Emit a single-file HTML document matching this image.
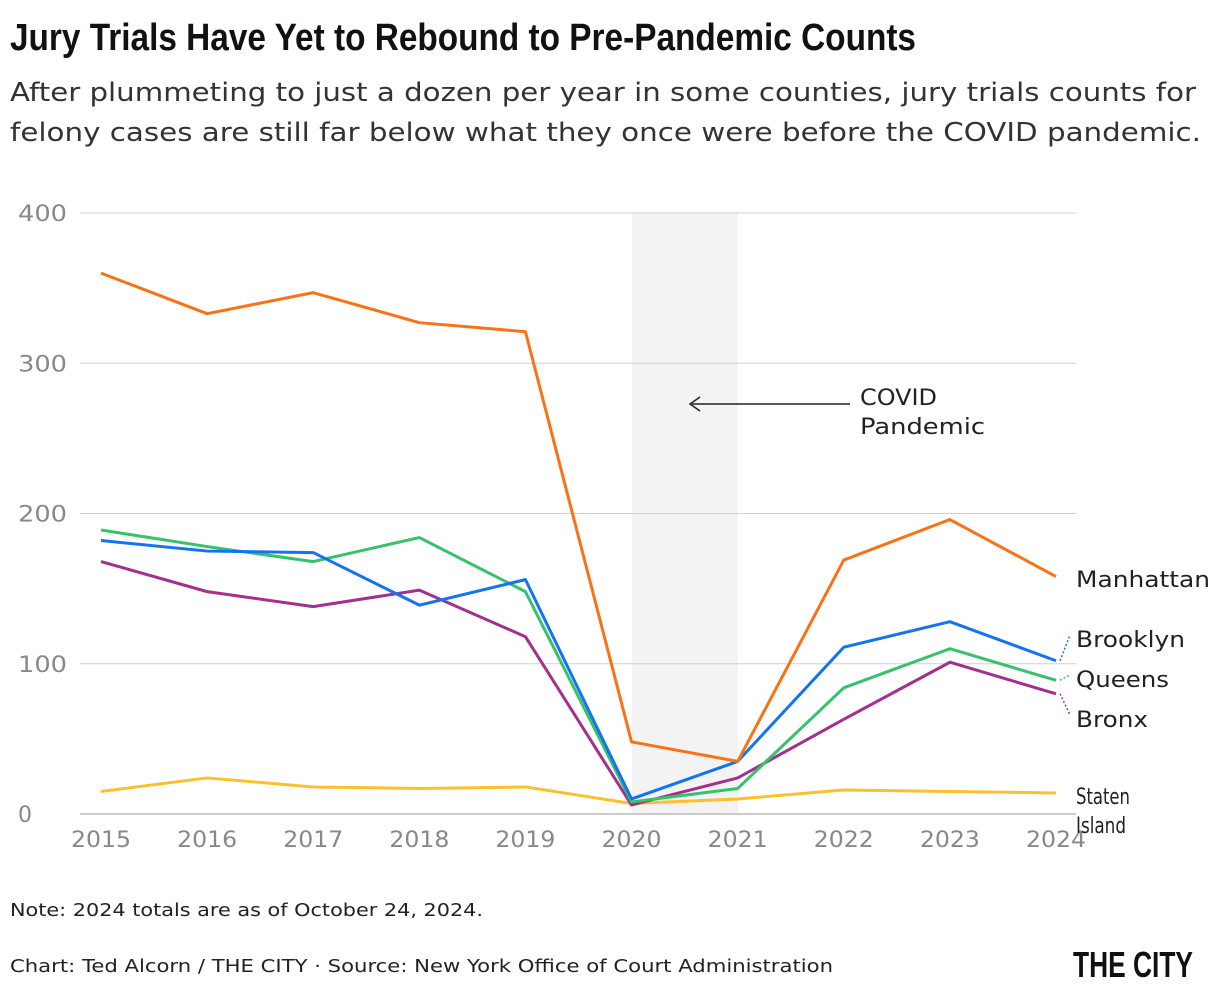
<!DOCTYPE html>
<html><head><meta charset="utf-8"><style>
html,body{margin:0;padding:0;background:#fff;}
svg{display:block;font-family:"DejaVu Sans","Liberation Sans",sans-serif;}
</style></head><body>
<svg id="chart" width="1220" height="1008" viewBox="0 0 1220 1008">
<text x="10" y="50" font-family="Liberation Sans Narrow, Liberation Sans, sans-serif" font-weight="bold" font-size="38" textLength="906" lengthAdjust="spacingAndGlyphs" fill="#111">Jury Trials Have Yet to Rebound to Pre-Pandemic Counts</text>
<text x="10" y="101" font-size="26" fill="#333" textLength="1186" lengthAdjust="spacingAndGlyphs">After plummeting to just a dozen per year in some counties, jury trials counts for</text>
<text x="10" y="141" font-size="26" fill="#333" textLength="1191" lengthAdjust="spacingAndGlyphs">felony cases are still far below what they once were before the COVID pandemic.</text>
<rect x="632" y="213" width="106" height="601" fill="#f3f3f3"/>
<g id="grid"></g>
<g id="lines"></g>
<g>
<line x1="692" y1="404" x2="850" y2="404" stroke="#222" stroke-width="1.5"/>
<path d="M700,397 L690,404 L700,411" fill="none" stroke="#222" stroke-width="1.5"/>
<text x="860" y="405" font-size="22" fill="#222" textLength="77" lengthAdjust="spacingAndGlyphs">COVID</text>
<text x="860" y="434" font-size="22" fill="#222" textLength="125" lengthAdjust="spacingAndGlyphs">Pandemic</text>
</g>
<g id="labels" font-size="22" fill="#222"></g>
<text x="10" y="916" font-size="18" fill="#222" textLength="473" lengthAdjust="spacingAndGlyphs">Note: 2024 totals are as of October 24, 2024.</text>
<text x="10" y="972" font-size="18" fill="#222" textLength="823" lengthAdjust="spacingAndGlyphs">Chart: Ted Alcorn / THE CITY · Source: New York Office of Court Administration</text>
<text x="1073" y="977" font-family="Liberation Sans Narrow, Liberation Sans, sans-serif" font-weight="bold" font-size="36" textLength="120" lengthAdjust="spacingAndGlyphs" fill="#111">THE CITY</text>
</svg>
<script>
const years=[2015,2016,2017,2018,2019,2020,2021,2022,2023,2024];
const yTicks=[0,100,200,300,400];
const manhattan=[360,333,347,327,321,48,35,169,196,158];
const brooklyn=[182,175,174,139,156,10,35,111,128,102];
const queens=[189,178,168,184,148,8,17,84,110,89];
const bronx=[168,148,138,149,118,6,24,63,101,80];
const statenIsland=[15,24,18,17,18,7,10,16,15,14];
const NS='http://www.w3.org/2000/svg';
const x=i=>101+(1056-101)*i/(years.length-1);
const y=v=>814-(814-213)*v/400;
function mk(t,a,p){const e=document.createElementNS(NS,t);for(const k in a)e.setAttribute(k,a[k]);p.appendChild(e);return e;}
const grid=document.getElementById('grid');
yTicks.forEach(v=>{
  const l=mk('line',{x1:80,x2:1076,y1:y(v),y2:y(v),stroke:v===0?'#999':'#d0d0d0','stroke-width':1},grid);
  
  
  const t=mk('text',{x:18,y:y(v)+8,'font-size':22,fill:'#888'},grid);t.textContent=v;
  if(v>0){t.setAttribute('textLength',49);t.setAttribute('lengthAdjust','spacingAndGlyphs');}
  
  
});
years.forEach((yr,i)=>{
  const t=mk('text',{x:x(i),y:847,'font-size':22,fill:'#888','text-anchor':'middle',textLength:60,lengthAdjust:'spacingAndGlyphs'},grid);t.textContent=yr;
  
  
});
const series=[['staten-island',statenIsland,'#fbc02d'],['bronx',bronx,'#a3308c'],['queens',queens,'#35c26b'],['brooklyn',brooklyn,'#1473f0'],['manhattan',manhattan,'#f97316']];
const lines=document.getElementById('lines');
series.forEach(([n,d,c])=>{
  const p=mk('polyline',{points:d.map((v,i)=>x(i)+','+y(v)).join(' '),fill:'none',stroke:c,'stroke-width':3,'stroke-linejoin':'round'},lines);
  
  
});
const labels=document.getElementById('labels');
const last=years.length-1;
const lab=[['Manhattan',manhattan,null,587,134],['Brooklyn',brooklyn,'#1473f0',647,109],['Queens',queens,'#35c26b',687,93],['Bronx',bronx,'#a3308c',727,72]];
lab.forEach(([n,d,c,ly,w])=>{
  if(c){const l=mk('line',{x1:1060,y1:y(d[last]),x2:1070,y2:ly-12,stroke:c,'stroke-width':1.5,'stroke-dasharray':'2,2'},labels);
  
  }
  const t=mk('text',{x:1076,y:ly,textLength:w,lengthAdjust:'spacingAndGlyphs'},labels);t.textContent=n;
  
  
});
const s1=mk('text',{x:1076,y:804,textLength:54,lengthAdjust:'spacingAndGlyphs'},labels);s1.textContent='Staten';


const s2=mk('text',{x:1076,y:833,textLength:50,lengthAdjust:'spacingAndGlyphs'},labels);s2.textContent='Island';


</script>
</body></html>
